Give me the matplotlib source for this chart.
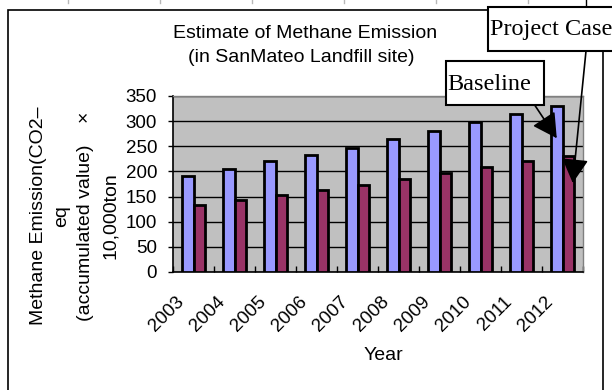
import numpy as np
import matplotlib
matplotlib.use("Agg")
import matplotlib.pyplot as plt
from matplotlib.patches import Rectangle
from matplotlib.lines import Line2D
from matplotlib.transforms import ScaledTranslation

plt.rcParams['font.family'] = ['Liberation Sans', 'DejaVu Sans']

# accumulated methane emission, x 10,000 ton CO2-eq
years = ['2003', '2004', '2005', '2006', '2007', '2008', '2009', '2010', '2011', '2012']
baseline = [190, 204, 220, 233, 247, 264, 281, 298, 315, 331]
project_case = [133, 143, 154, 163, 173, 185, 197, 208, 221, 231]

W, H = 612, 390
fig = plt.figure(figsize=(W / 100, H / 100), dpi=100)


def fx(x):
    return x / W


def fy(y):
    return 1 - y / H


ax = fig.add_axes([fx(173), fy(272), (583 - 173) / W, (272 - 96) / H])
ax.set_facecolor('#C0C0C0')

x = np.arange(len(years))
bw = 0.28
ax.bar(x - bw / 2, baseline, bw, color='#9999FF', edgecolor='black', linewidth=2, zorder=3)
ax.bar(x + bw / 2, project_case, bw, color='#993366', edgecolor='black', linewidth=2, zorder=3)

ax.set_xlim(-0.5, len(years) - 0.5)
ax.set_ylim(0, 350)
ax.set_yticks(np.arange(0, 351, 50))
ax.yaxis.grid(True, color='black', linewidth=1.0, zorder=1)
ax.set_axisbelow(True)
ax.tick_params(axis='y', direction='out', length=3.5, width=1, pad=8, labelsize=13.5)

# ticks between the year groups, labels at group centres
ax.set_xticks(np.arange(-0.5, len(years)))
ax.set_xticklabels([])
ax.set_xticks(x, minor=True)
ax.set_xticklabels(years, minor=True, rotation=45, ha='right', va='top', fontsize=13.5)
ax.tick_params(axis='x', which='major', direction='in', length=4, width=1)
ax.tick_params(axis='x', which='minor', length=0, pad=15)
shift = ScaledTranslation(-0.06, 0, fig.dpi_scale_trans)
for lab in ax.get_xticklabels(minor=True):
    lab.set_transform(lab.get_transform() + shift)

for s in ['top', 'right']:
    ax.spines[s].set_color('#808080')
    ax.spines[s].set_linewidth(1)
for s in ['left', 'bottom']:
    ax.spines[s].set_color('black')
    ax.spines[s].set_linewidth(1.2)

# titles
fig.text(fx(305), fy(33), 'Estimate of Methane Emission', ha='center', va='center', fontsize=14)
fig.text(fx(301), fy(58), '(in SanMateo Landfill site)', ha='center', va='center', fontsize=14)
fig.text(fx(383), fy(355), 'Year', ha='center', va='center', fontsize=14)

ylines = ['Methane Emission(CO2\u2013', 'eq', '(accumulated value)    \u00d7', '10,000ton']
for xb, line in zip([43, 66, 90, 115], ylines):
    fig.text(fx(xb), fy(216), line, rotation=90, rotation_mode='anchor',
             ha='center', va='baseline', fontsize=14)

# outer chart frame
fig.add_artist(Rectangle((fx(8), fy(420)), fx(603) - fx(8), fy(10) - fy(420),
                         transform=fig.transFigure, fill=False, edgecolor='black',
                         linewidth=1.2, zorder=2))

# faint marks along the top edge
for xm in [68, 160, 252, 344, 436, 528]:
    fig.add_artist(Line2D([fx(xm), fx(xm)], [fy(0), fy(3)], transform=fig.transFigure,
                          color='#b8b8b8', linewidth=1))
fig.add_artist(Line2D([fx(586), fx(586)], [fy(0), fy(7)], transform=fig.transFigure,
                      color='black', linewidth=1))

# callout boxes
for (x0, y0, x1, y1) in [(446, 61, 544, 105), (488, 7, 640, 51)]:
    fig.add_artist(Rectangle((fx(x0), fy(y1)), fx(x1) - fx(x0), fy(y0) - fy(y1),
                             transform=fig.transFigure, facecolor='white',
                             edgecolor='black', linewidth=1.5, zorder=4))
fig.text(fx(447), fy(84), 'Baseline', family='Liberation Serif', fontsize=17.5,
         ha='left', va='center', zorder=5)
fig.text(fx(490), fy(30), 'Project Case', family='Liberation Serif', fontsize=17.5,
         ha='left', va='center', zorder=5)

arrow = dict(arrowstyle='-|>,head_length=1.0,head_width=0.55', mutation_scale=15,
             color='black', linewidth=1.2, shrinkA=0, shrinkB=0)
ax.annotate('', xy=(9 - bw / 2, 266), xycoords='data', xytext=(528, H - 95),
            textcoords='figure pixels', arrowprops=arrow, annotation_clip=False).set_zorder(6)
ax.annotate('', xy=(9.25, 177), xycoords='data', xytext=(586, H - 51),
            textcoords='figure pixels', arrowprops=arrow, annotation_clip=False).set_zorder(6)

fig.savefig('out.png', dpi=100)
